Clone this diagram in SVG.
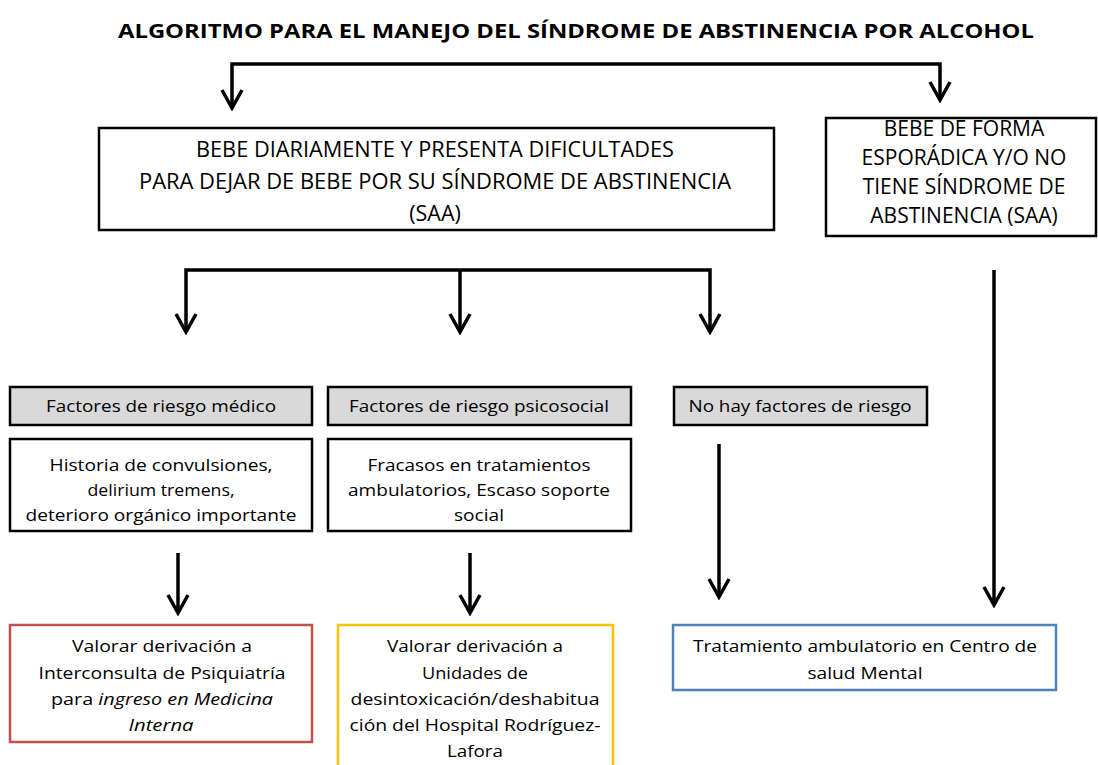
<svg xmlns="http://www.w3.org/2000/svg" width="1098" height="765" viewBox="0 0 1098 765">
<style>
text{font-family:"Open Sans","Noto Sans",sans-serif;font-size:17px;fill:#000;text-anchor:middle}
.title{font-weight:bold;font-size:20px}
.up{font-size:21.5px}
.up2{font-size:21px}
.box{fill:#fff;stroke:#000;stroke-width:2.5}
.gray{fill:#d9d9d9;stroke:#000;stroke-width:2.5}
.red{fill:#fff;stroke:#c0504d;stroke-width:2.5}
.yel{fill:#fff;stroke:#ffc000;stroke-width:2.5}
.blu{fill:#fff;stroke:#4f81bd;stroke-width:2.5}
.con{fill:none;stroke:#000;stroke-width:3.5;marker-end:url(#arr)}
</style>
<defs>
<marker id="arr" markerUnits="userSpaceOnUse" viewBox="0 0 24 24" markerWidth="24" markerHeight="24" refX="21" refY="12" orient="auto">
<path d="M3,2 L21,12 L3,22" fill="none" stroke="#000" stroke-width="3.5"/>
</marker>
</defs>
<text class="title" x="576" y="38" textLength="916" lengthAdjust="spacingAndGlyphs">ALGORITMO PARA EL MANEJO DEL SÍNDROME DE ABSTINENCIA POR ALCOHOL</text>
<g id="connectors">
<path class="con" d="M586,64 H232 V108"/>
<path class="con" d="M586,64 H940 V100"/>
<path class="con" d="M460,270 H186 V332"/>
<path class="con" d="M460,270 V332"/>
<path class="con" d="M460,270 H710 V332"/>
<path class="con" d="M994,270 V605"/>
<path class="con" d="M719,444 V597"/>
<path class="con" d="M178,553 V613"/>
<path class="con" d="M470,553 V613"/>
</g>
<g id="n-diario">
<rect class="box" x="99" y="128" width="675" height="102"/>
<text class="up" x="435" y="157" textLength="478" lengthAdjust="spacingAndGlyphs">BEBE DIARIAMENTE Y PRESENTA DIFICULTADES</text>
<text class="up" x="435" y="189" textLength="592" lengthAdjust="spacingAndGlyphs">PARA DEJAR DE BEBE POR SU SÍNDROME DE ABSTINENCIA</text>
<text class="up" x="435" y="221">(SAA)</text>
</g>
<g id="n-esporadica">
<rect class="box" x="826" y="118" width="270" height="118"/>
<text class="up2" x="964" y="136">BEBE DE FORMA</text>
<text class="up2" x="964" y="165">ESPORÁDICA Y/O NO</text>
<text class="up2" x="964" y="194">TIENE SÍNDROME DE</text>
<text class="up2" x="964" y="223">ABSTINENCIA (SAA)</text>
</g>
<g id="n-medico">
<rect class="gray" x="10" y="387" width="302" height="38"/>
<text x="161" y="412" textLength="230" lengthAdjust="spacingAndGlyphs">Factores de riesgo médico</text>
</g>
<g id="n-psicosocial">
<rect class="gray" x="328" y="387" width="303" height="38"/>
<text x="479" y="412" textLength="260" lengthAdjust="spacingAndGlyphs">Factores de riesgo psicosocial</text>
</g>
<g id="n-nohay">
<rect class="gray" x="674" y="387" width="253" height="38"/>
<text x="800" y="412" textLength="223" lengthAdjust="spacingAndGlyphs">No hay factores de riesgo</text>
</g>
<g id="n-historia">
<rect class="box" x="10" y="439" width="302" height="92"/>
<text x="161" y="471" textLength="223" lengthAdjust="spacingAndGlyphs">Historia de convulsiones,</text>
<text x="161" y="496" textLength="147" lengthAdjust="spacingAndGlyphs">delirium tremens,</text>
<text x="161" y="521" textLength="271" lengthAdjust="spacingAndGlyphs">deterioro orgánico importante</text>
</g>
<g id="n-fracasos">
<rect class="box" x="328" y="439" width="303" height="92"/>
<text x="479" y="471" textLength="223" lengthAdjust="spacingAndGlyphs">Fracasos en tratamientos</text>
<text x="479" y="496" textLength="262" lengthAdjust="spacingAndGlyphs">ambulatorios, Escaso soporte</text>
<text x="479" y="521" textLength="50" lengthAdjust="spacingAndGlyphs">social</text>
</g>
<g id="n-psiquiatria">
<rect class="red" x="10" y="625" width="302" height="117"/>
<text x="162" y="652" textLength="180" lengthAdjust="spacingAndGlyphs">Valorar derivación a</text>
<text x="162" y="679" textLength="247" lengthAdjust="spacingAndGlyphs">Interconsulta de Psiquiatría</text>
<text x="162" y="705" textLength="222" lengthAdjust="spacingAndGlyphs">para <tspan font-style="italic">ingreso en Medicina</tspan></text>
<text x="161" y="731" font-style="italic" textLength="65" lengthAdjust="spacingAndGlyphs">Interna</text>
</g>
<g id="n-unidades">
<rect class="yel" x="338" y="625" width="275" height="150"/>
<text x="475" y="652" textLength="176" lengthAdjust="spacingAndGlyphs">Valorar derivación a</text>
<text x="475" y="679" textLength="106" lengthAdjust="spacingAndGlyphs">Unidades de</text>
<text x="475" y="705" textLength="249" lengthAdjust="spacingAndGlyphs">desintoxicación/deshabitua</text>
<text x="475" y="731" textLength="251" lengthAdjust="spacingAndGlyphs">ción del Hospital Rodríguez-</text>
<text x="475" y="757" textLength="56" lengthAdjust="spacingAndGlyphs">Lafora</text>
</g>
<g id="n-ambulatorio">
<rect class="blu" x="673" y="625" width="383" height="65"/>
<text x="865" y="652" textLength="344" lengthAdjust="spacingAndGlyphs">Tratamiento ambulatorio en Centro de</text>
<text x="865" y="679" textLength="115" lengthAdjust="spacingAndGlyphs">salud Mental</text>
</g>
</svg>
